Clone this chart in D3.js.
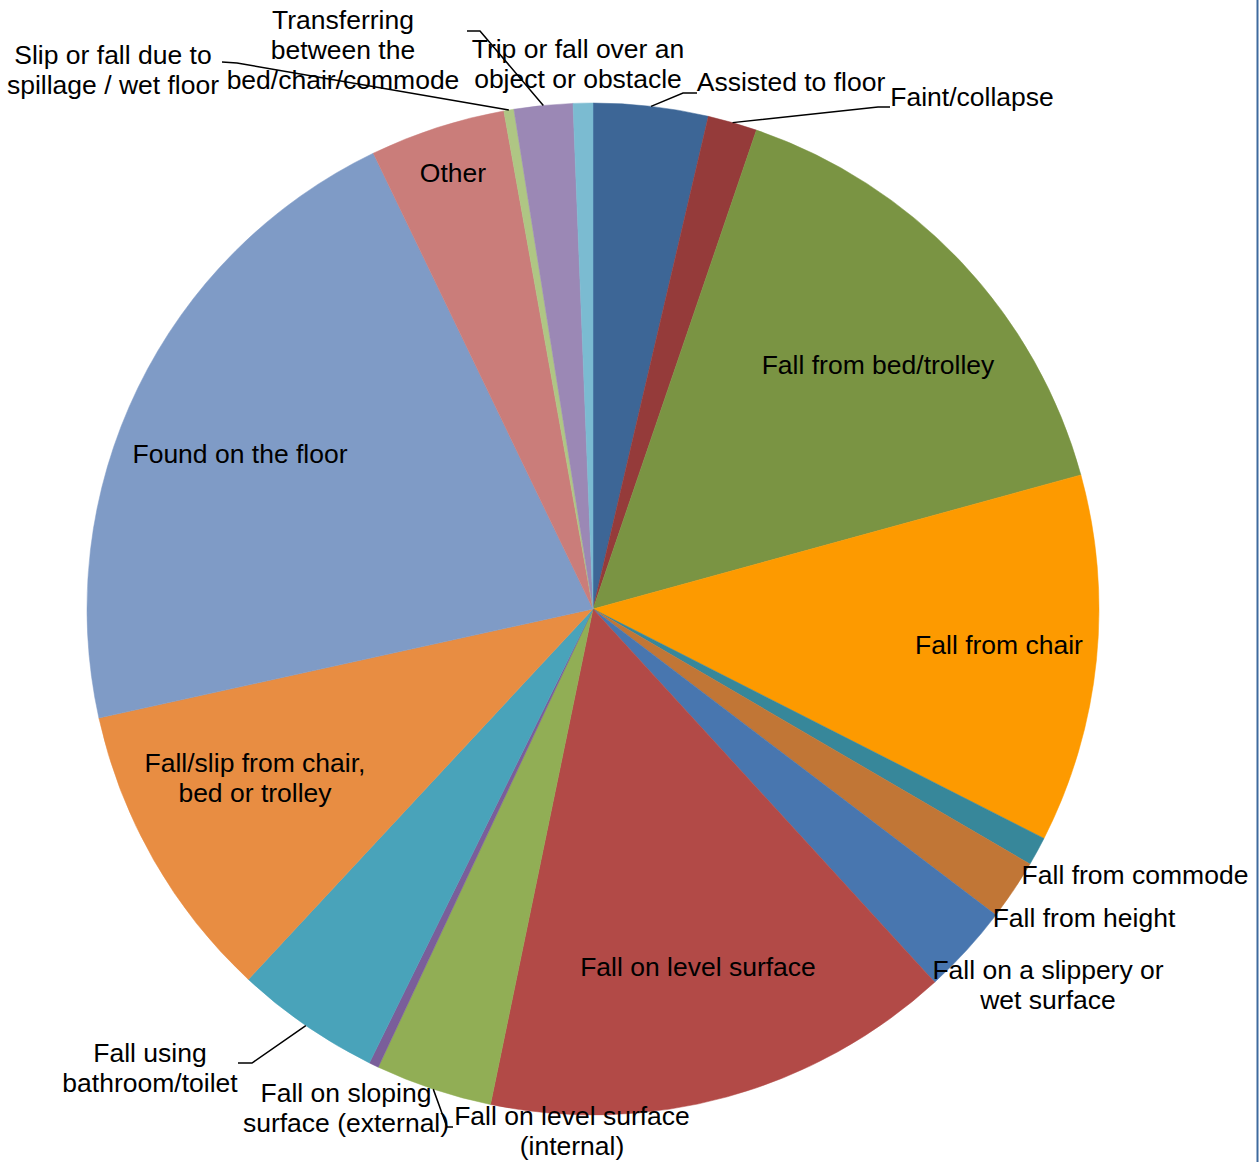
<!DOCTYPE html>
<html>
<head>
<meta charset="utf-8">
<script src="https://cdn.jsdelivr.net/npm/d3@7"></script>
<style>
  html, body { margin: 0; padding: 0; background: #fff; }
  svg { display: block; }
  text { font-family: "Liberation Sans", Arial, sans-serif; font-size: 26.5px; fill: #000; }
</style>
</head>
<body>
<svg id="chart" width="1259" height="1162"></svg>
<script>
// ---- Data ----
const categories = [
  "Assisted to floor",
  "Faint/collapse",
  "Fall from bed/trolley",
  "Fall from chair",
  "Fall from commode",
  "Fall from height",
  "Fall on a slippery or wet surface",
  "Fall on level surface",
  "Fall on level surface (internal)",
  "Fall on sloping surface (external)",
  "Fall using bathroom/toilet",
  "Fall/slip from chair, bed or trolley",
  "Found on the floor",
  "Other",
  "Slip or fall due to spillage / wet floor",
  "Transferring between the bed/chair/commode",
  "Trip or fall over an object or obstacle"
];
const values = [3.66, 1.575, 15.50, 11.76, 0.92, 1.93, 2.86, 15.05, 3.73, 0.31, 4.64, 9.62, 21.31, 4.33, 0.32, 1.87, 0.63];
const labelLines = [
  ["Assisted to floor"],
  ["Faint/collapse"],
  ["Fall from bed/trolley"],
  ["Fall from chair"],
  ["Fall from commode"],
  ["Fall from height"],
  ["Fall on a slippery or", "wet surface"],
  ["Fall on level surface"],
  ["Fall on level surface", "(internal)"],
  ["Fall on sloping", "surface (external)"],
  ["Fall using", "bathroom/toilet"],
  ["Fall/slip from chair,", "bed or trolley"],
  ["Found on the floor"],
  ["Other"],
  ["Slip or fall due to", "spillage / wet floor"],
  ["Transferring", "between the", "bed/chair/commode"],
  ["Trip or fall over an", "object or obstacle"]
];
const colors = ["#3D6696", "#953B3A", "#7A9443", "#FD9A00", "#37879A", "#C17636", "#4876AF",
                "#B24A47", "#91AE55", "#7A5E9A", "#49A3BA", "#E88D42", "#7F9BC6", "#CA7D7A",
                "#AFC684", "#9B88B5", "#7BBBD1"];

// ---- Layout (label positions: centre x, centre y of first line) ----
const labelPos = [
  [791, 82], [972, 97], [878, 365], [999, 645], [1135, 875], [1084, 918], [1048, 970],
  [698, 967], [572, 1116], [346, 1093], [150, 1053], [255, 763], [240, 454], [453, 173],
  [113, 55], [343, 20], [578, 49]
];
// leader elbows: [elbow point, end point]
const leaders = {
  0: [[683, 93], [697, 93]],
  1: [[878, 107], [890, 107]],
  8: [[447, 1127], [453, 1127]],
  10: [[252, 1063], [238, 1063]],
  14: [[237, 63], [222, 62]],
  15: [[480, 31], [467, 31]]
};

const cx = 593, cy = 609, R = 506;
const svg = d3.select("#chart");

// right border line
svg.append("line").attr("x1", 1257.5).attr("x2", 1257.5).attr("y1", 0).attr("y2", 1162)
  .attr("stroke", "#3F6A9E").attr("stroke-width", 2);

const data = categories.map((c, i) => ({ name: c, value: values[i], i }));
const pie = d3.pie().value(d => d.value).sort(null).startAngle(0).endAngle(2 * Math.PI);
const arcs = pie(data);
const arc = d3.arc().innerRadius(0).outerRadius(R);

const g = svg.append("g").attr("transform", `translate(${cx},${cy})`);
g.selectAll("path").data(arcs).enter().append("path")
  .attr("d", arc)
  .attr("fill", d => colors[d.data.i])
  .attr("stroke", d => colors[d.data.i])
  .attr("stroke-width", 0.5);

// leader lines
const lineGen = d3.line();
arcs.forEach(a => {
  const L = leaders[a.data.i];
  if (!L) return;
  const mid = (a.startAngle + a.endAngle) / 2;
  const p0 = [cx + R * Math.sin(mid), cy - R * Math.cos(mid)];
  svg.append("path").attr("d", lineGen([p0, L[0], L[1]]))
    .attr("fill", "none").attr("stroke", "#000").attr("stroke-width", 1.5);
});

// labels
const lh = 30;
labelLines.forEach((lines, i) => {
  const [x, y] = labelPos[i];
  const t = svg.append("text").attr("text-anchor", "middle");
  lines.forEach((ln, k) => {
    t.append("tspan").attr("x", x).attr("y", y + k * lh).attr("dy", "0.35em").text(ln);
  });
});
</script>
</body>
</html>
